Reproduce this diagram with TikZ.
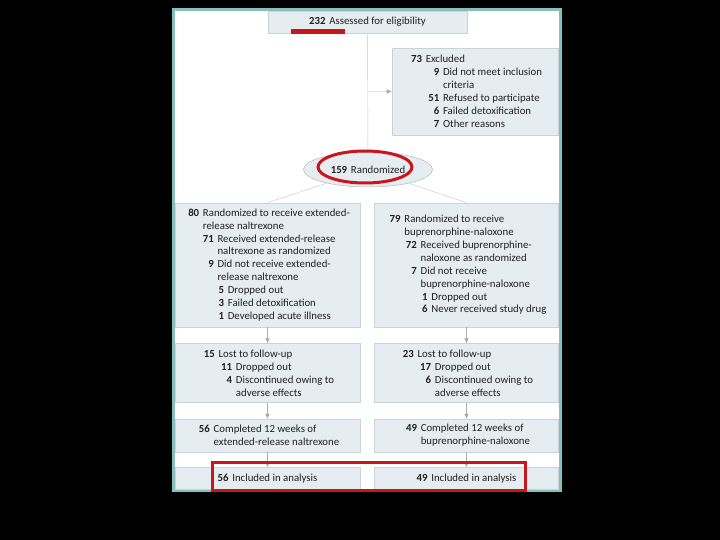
\documentclass[tikz,border=0pt]{standalone}
\usepackage{fontspec}
\setmainfont{Carlito}
\usepackage{xcolor}
\usepackage{tikz}
\usetikzlibrary{positioning}
\usetikzlibrary{shapes.geometric}
\usetikzlibrary{arrows.meta}
\definecolor{boxfill}{HTML}{E5EDF1}
\definecolor{boxline}{HTML}{C9D3D9}
\definecolor{framecol}{HTML}{88BEBD}
\definecolor{ink}{HTML}{231F20}
\definecolor{markred}{HTML}{C8161D}
\tikzset{edge/.style = {-{Latex[length=5pt,width=4.5pt,color=gray!70]}, draw=gray!65, line width=0.4pt}}
\tikzset{link/.style = {draw=gray!45, line width=0.4pt}}
\newcommand{\nbr}[2][0pt]{\hspace*{#1}\makebox[1.3em][r]{\bfseries #2}\hspace{0.35em}}
\newcommand{\nbrskip}[1][0pt]{\hspace*{#1}\hspace*{1.65em}}

\begin{document}
\begin{tikzpicture}[x=1pt,y=-1pt,
    box/.style={rectangle,draw=boxline,fill=boxfill,line width=0.5pt,inner sep=0pt,
      align=left,text=ink,font=\fontsize{10.8}{12.9}\selectfont},
    oval/.style={ellipse,draw=gray!55,fill=boxfill,line width=0.5pt,inner sep=0pt,
      text=ink,font=\fontsize{10.8}{12.9}\selectfont}]
    \fill[black] (0,0) rectangle (720,540);
    \draw[framecol,line width=3pt,fill=white] (173.5,9.5) rectangle (560.5,490.5);

    \node[box,minimum width=199pt,minimum height=22pt] (assess) at (367.5,22)
        {\textbf{232}\hspace{0.35em}Assessed for eligibility};
    \node[box,minimum width=166pt,minimum height=87pt] (excl) at (475,91.5)
        {\nbr{73}Excluded\\
         \nbr[1.6em]{9}Did not meet inclusion\\
         \nbrskip[1.6em]criteria\\
         \nbr[1.6em]{51}Refused to participate\\
         \nbr[1.6em]{6}Failed detoxification\\
         \nbr[1.6em]{7}Other reasons};
    \node[oval,minimum width=129pt,minimum height=35pt] (rand) at (368,169.5)
        {\textbf{159}\hspace{0.35em}Randomized};

    \node[box,minimum width=185pt,minimum height=124pt] (grpL) at (267.5,265)
        {\nbr{80}Randomized to receive extended-\\
         \nbrskip release naltrexone\\
         \nbr[1.35em]{71}Received extended-release\\
         \nbrskip[1.35em]naltrexone as randomized\\
         \nbr[1.35em]{9}Did not receive extended-\\
         \nbrskip[1.35em]release naltrexone\\
         \nbr[2.3em]{5}Dropped out\\
         \nbr[2.3em]{3}Failed detoxification\\
         \nbr[2.3em]{1}Developed acute illness};
    \node[box,minimum width=184pt,minimum height=124pt,right=14pt of grpL] (grpR)
        {\nbr{79}Randomized to receive\\
         \nbrskip buprenorphine-naloxone\\
         \nbr[1.5em]{72}Received buprenorphine-\\
         \nbrskip[1.5em]naloxone as randomized\\
         \nbr[1.5em]{7}Did not receive\\
         \nbrskip[1.5em]buprenorphine-naloxone\\
         \nbr[2.5em]{1}Dropped out\\
         \nbr[2.5em]{6}Never received study drug};

    \node[box,minimum width=185pt,minimum height=59pt,below=16pt of grpL] (lostL)
        {\nbr{15}Lost to follow-up\\
         \nbr[1.6em]{11}Dropped out\\
         \nbr[1.6em]{4}Discontinued owing to\\
         \nbrskip[1.6em]adverse effects};
    \node[box,minimum width=184pt,minimum height=59pt,right=14pt of lostL] (lostR)
        {\nbr{23}Lost to follow-up\\
         \nbr[1.6em]{17}Dropped out\\
         \nbr[1.6em]{6}Discontinued owing to\\
         \nbrskip[1.6em]adverse effects};

    \node[box,minimum width=185pt,minimum height=33pt,below=16pt of lostL] (doneL)
        {\nbr{56}Completed 12 weeks of\\
         \nbrskip extended-release naltrexone};
    \node[box,minimum width=184pt,minimum height=33pt,right=14pt of doneL] (doneR)
        {\nbr{49}Completed 12 weeks of\\
         \nbrskip buprenorphine-naloxone};

    \node[box,minimum width=185pt,minimum height=22pt,below=15pt of doneL] (inclL)
        {\textbf{56}\hspace{0.35em}Included in analysis};
    \node[box,minimum width=184pt,minimum height=22pt,right=14pt of inclL] (inclR)
        {\textbf{49}\hspace{0.35em}Included in analysis};

    \coordinate (split) at (assess.south |- excl.west);
    \path (assess) edge[link] (rand);
    \path (split) edge[edge,draw=gray!20] (excl.west);
    \path (rand) edge[link] (grpL.north);
    \path (rand) edge[link] (grpR.north);
    \path (grpL) edge[edge] (lostL);
    \path (grpR) edge[edge] (lostR);
    \path (lostL) edge[edge] (doneL);
    \path (lostR) edge[edge] (doneR);
    \path (doneL) edge[edge] (inclL);
    \path (doneR) edge[edge] (inclR);

    % red highlights
    \fill[markred] (291,29) rectangle (345,34);
    \node[ellipse,draw=markred,line width=3pt,minimum width=94pt,minimum height=32pt,inner sep=0pt]
        (ring) at ([shift={(-3pt,2.5pt)}]rand.center) {};
    \draw[markred,line width=3pt] (212,462.5) rectangle (525,490.5);
\end{tikzpicture}
\end{document}
